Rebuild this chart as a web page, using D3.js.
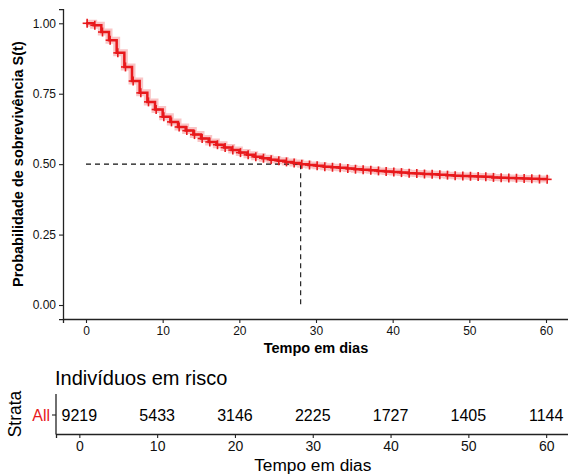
<!DOCTYPE html>
<html><head><meta charset="utf-8">
<script src="https://cdn.jsdelivr.net/npm/d3@7"></script>
<style>body{margin:0;background:#fff}svg{display:block}text{font-family:"Liberation Sans",Arial,sans-serif}</style>
</head><body>
<svg id="c" width="568" height="475"></svg>
<script>
// ---- data ----
const days = [0,1,2,3,4,5,6,7,8,9,10,11,12,13,14,15,16,17,18,19,20,21,22,23,24,25,26,27,28,29,30,31,32,33,34,35,36,37,38,39,40,41,42,43,44,45,46,47,48,49,50,51,52,53,54,55,56,57,58,59,60];
const survival = [1.000,0.993,0.969,0.940,0.895,0.845,0.795,0.753,0.721,0.694,0.668,0.650,0.632,0.619,0.605,0.591,0.579,0.569,0.559,0.550,0.541,0.533,0.526,0.521,0.516,0.512,0.508,0.504,0.500,0.497,0.494,0.491,0.489,0.487,0.485,0.482,0.480,0.478,0.476,0.474,0.472,0.470,0.468,0.467,0.465,0.464,0.462,0.461,0.459,0.458,0.457,0.456,0.455,0.453,0.452,0.451,0.450,0.449,0.448,0.447,0.446];
const xTicks = [0,10,20,30,40,50,60];
const yTicks = [0,0.25,0.5,0.75,1];
const yTickLabels = ["0.00","0.25","0.50","0.75","1.00"];
const riskTimes = [0,10,20,30,40,50,60];
const riskCounts = [9219,5433,3146,2225,1727,1405,1144];
const medianTime = 28;
const medianSurv = 0.5;
const strata = ["All"];

const svg = d3.select("#c");
const red = "#e8191c";
const axisCol = "#222";

// ---- main panel ----
const x = d3.scaleLinear().domain([-3,63]).range([63,569]);
const y = d3.scaleLinear().domain([-0.05,1.05]).range([319.1,9.2]);

const pts = days.map((d,i)=>[d,survival[i]]);
const line = d3.line().x(d=>x(d[0])).y(d=>y(d[1])).curve(d3.curveStepAfter);

// confidence band look
svg.append("path").attr("d",line(pts)).attr("fill","none")
  .attr("stroke",red).attr("stroke-opacity",0.25).attr("stroke-width",7);
// median lines
svg.append("line").attr("x1",x(0)).attr("x2",x(medianTime)).attr("y1",y(medianSurv)).attr("y2",y(medianSurv))
  .attr("stroke","#111").attr("stroke-width",1.1).attr("stroke-dasharray","5,4");
svg.append("line").attr("x1",x(medianTime)).attr("x2",x(medianTime)).attr("y1",y(medianSurv)).attr("y2",y(0))
  .attr("stroke","#111").attr("stroke-width",1.1).attr("stroke-dasharray","5,4");
// curve
svg.append("path").attr("d",line(pts)).attr("fill","none")
  .attr("stroke",red).attr("stroke-width",2.5);
// censor marks
const cg = svg.append("g").attr("stroke",red).attr("stroke-width",1.6);
pts.forEach(p=>{
  const cx=x(p[0]+0.15), cy=y(p[1]);
  cg.append("line").attr("x1",cx-4.5).attr("x2",cx+4.5).attr("y1",cy).attr("y2",cy);
  cg.append("line").attr("x1",cx).attr("x2",cx).attr("y1",cy-4.5).attr("y2",cy+4.5);
});

// axes
const xAxis = svg.append("g").attr("transform","translate(0,319)")
  .call(d3.axisBottom(x).tickValues(xTicks).tickSize(4).tickPadding(3));
const yAxis = svg.append("g").attr("transform","translate(63,0)")
  .call(d3.axisLeft(y).tickValues(yTicks).tickFormat((d,i)=>yTickLabels[i]).tickSize(4).tickPadding(3));
[xAxis,yAxis].forEach(g=>{
  g.select(".domain").attr("stroke",axisCol).attr("stroke-width",1.3);
  g.selectAll(".tick line").attr("stroke",axisCol).attr("stroke-width",1.1);
  g.selectAll(".tick text").attr("fill","#111").style("font-size","12px");
});
svg.append("text").attr("x",x(30)).attr("y",353).attr("text-anchor","middle")
  .style("font-size","14.5px").style("font-weight","bold").attr("fill","#000").text("Tempo em dias");
svg.append("text").attr("transform",`translate(23,${y(0.5)}) rotate(-90)`).attr("text-anchor","middle")
  .style("font-size","14.5px").style("font-weight","bold").attr("fill","#000").text("Probabilidade de sobrevivência S(t)");

// ---- risk table ----
const xr = d3.scaleLinear().domain([-3,63]).range([56,569.5]);
const yr = d3.scalePoint().domain(strata).range([415,415]);
svg.append("text").attr("x",55).attr("y",385).style("font-size","20px").attr("fill","#000").text("Indivíduos em risco");
const rt = svg.append("g");
riskTimes.forEach((t,i)=>{
  rt.append("text").attr("x",xr(t)).attr("y",yr("All")).attr("dy","0.36em").attr("text-anchor","middle")
    .style("font-size","16px").attr("fill","#000").text(riskCounts[i]);
});
const xrAxis = svg.append("g").attr("transform","translate(0,434)")
  .call(d3.axisBottom(xr).tickValues(xTicks).tickSize(4).tickPadding(3));
svg.append("line").attr("x1",56).attr("x2",56).attr("y1",394).attr("y2",434.6).attr("stroke",axisCol).attr("stroke-width",1.3);
svg.append("line").attr("x1",52).attr("x2",56).attr("y1",yr("All")).attr("y2",yr("All")).attr("stroke",axisCol).attr("stroke-width",1.1);
svg.append("text").attr("x",50).attr("y",yr("All")).attr("dy","0.36em").attr("text-anchor","end")
  .style("font-size","16px").attr("fill",red).text("All");
xrAxis.select(".domain").attr("stroke",axisCol).attr("stroke-width",1.3);
xrAxis.selectAll(".tick line").attr("stroke",axisCol).attr("stroke-width",1.1);
xrAxis.selectAll(".tick text").attr("fill","#111").style("font-size","14px");
svg.append("text").attr("x",xr(30)).attr("y",471).attr("text-anchor","middle")
  .style("font-size","17.3px").attr("fill","#000").text("Tempo em dias");
svg.append("text").attr("transform",`translate(21,414) rotate(-90)`).attr("text-anchor","middle")
  .style("font-size","17.5px").attr("fill","#000").text("Strata");
</script>
</body></html>
